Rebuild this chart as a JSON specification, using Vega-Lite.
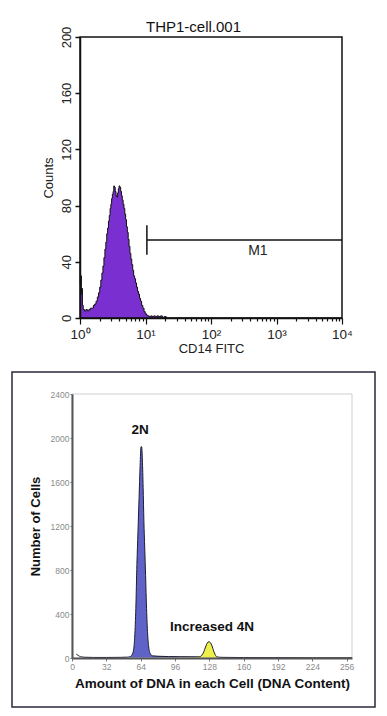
{
  "$schema": "https://vega.github.io/schema/vega-lite/v6.json",
  "background": "white",
  "padding": {"left": 11, "top": 20, "right": 13, "bottom": 11},
  "spacing": 0,
  "config": {"view": {"stroke": null}, "font": "Liberation Sans"},
  "datasets": {
    "flow": [
      {"fitc": 1.00, "count": 37}, {"fitc": 1.02, "count": 24}, {"fitc": 1.04, "count": 30}, {"fitc": 1.06, "count": 17},
      {"fitc": 1.08, "count": 21}, {"fitc": 1.10, "count": 9}, {"fitc": 1.14, "count": 6}, {"fitc": 1.20, "count": 5},
      {"fitc": 1.26, "count": 6}, {"fitc": 1.33, "count": 5}, {"fitc": 1.40, "count": 6}, {"fitc": 1.48, "count": 7},
      {"fitc": 1.56, "count": 7}, {"fitc": 1.64, "count": 9}, {"fitc": 1.72, "count": 10}, {"fitc": 1.80, "count": 12},
      {"fitc": 1.88, "count": 15}, {"fitc": 1.96, "count": 18}, {"fitc": 2.04, "count": 22}, {"fitc": 2.12, "count": 27},
      {"fitc": 2.20, "count": 32}, {"fitc": 2.28, "count": 37}, {"fitc": 2.36, "count": 43}, {"fitc": 2.44, "count": 49},
      {"fitc": 2.52, "count": 54}, {"fitc": 2.60, "count": 60}, {"fitc": 2.68, "count": 64}, {"fitc": 2.76, "count": 69},
      {"fitc": 2.84, "count": 73}, {"fitc": 2.92, "count": 78}, {"fitc": 3.00, "count": 81}, {"fitc": 3.08, "count": 85},
      {"fitc": 3.16, "count": 88}, {"fitc": 3.24, "count": 90}, {"fitc": 3.32, "count": 94}, {"fitc": 3.40, "count": 93},
      {"fitc": 3.50, "count": 90}, {"fitc": 3.60, "count": 87}, {"fitc": 3.70, "count": 86}, {"fitc": 3.80, "count": 89},
      {"fitc": 3.90, "count": 92}, {"fitc": 4.00, "count": 94}, {"fitc": 4.12, "count": 93}, {"fitc": 4.24, "count": 90},
      {"fitc": 4.36, "count": 87}, {"fitc": 4.48, "count": 84}, {"fitc": 4.62, "count": 81}, {"fitc": 4.76, "count": 78},
      {"fitc": 4.90, "count": 74}, {"fitc": 5.05, "count": 70}, {"fitc": 5.20, "count": 65}, {"fitc": 5.36, "count": 61},
      {"fitc": 5.52, "count": 56}, {"fitc": 5.70, "count": 51}, {"fitc": 5.88, "count": 46}, {"fitc": 6.07, "count": 42},
      {"fitc": 6.27, "count": 38}, {"fitc": 6.48, "count": 34}, {"fitc": 6.70, "count": 30}, {"fitc": 6.93, "count": 28},
      {"fitc": 7.17, "count": 25}, {"fitc": 7.42, "count": 22}, {"fitc": 7.68, "count": 19}, {"fitc": 7.95, "count": 17},
      {"fitc": 8.25, "count": 14}, {"fitc": 8.55, "count": 12}, {"fitc": 8.90, "count": 9}, {"fitc": 9.30, "count": 7},
      {"fitc": 9.70, "count": 4.5}, {"fitc": 10.1, "count": 3}, {"fitc": 10.6, "count": 2}, {"fitc": 11.1, "count": 1.5},
      {"fitc": 11.7, "count": 1}, {"fitc": 12.3, "count": 1.5}, {"fitc": 13.0, "count": 1}, {"fitc": 13.7, "count": 1.5},
      {"fitc": 14.5, "count": 1}, {"fitc": 15.4, "count": 1.5}, {"fitc": 16.4, "count": 1}, {"fitc": 17.5, "count": 1.5},
      {"fitc": 18.7, "count": 0.5}, {"fitc": 20.0, "count": 1}, {"fitc": 21.5, "count": 0}, {"fitc": 10000, "count": 0}
    ],
    "gates": [
      {"gate": "M1", "start": 10.5, "end": 10000, "level": 55.5, "low": 45, "high": 66, "labelAt": 520, "labelLevel": 48}
    ],
    "dna": [
      {"dna": 4, "cells": 35, "phase": "baseline"}, {"dna": 6, "cells": 22, "phase": "baseline"},
      {"dna": 8, "cells": 12, "phase": "baseline"}, {"dna": 12, "cells": 7, "phase": "baseline"},
      {"dna": 20, "cells": 5, "phase": "baseline"}, {"dna": 32, "cells": 5, "phase": "baseline"},
      {"dna": 45, "cells": 6, "phase": "baseline"}, {"dna": 52, "cells": 8, "phase": "baseline"},
      {"dna": 54, "cells": 12, "phase": "2N"}, {"dna": 56, "cells": 30, "phase": "2N"},
      {"dna": 57.5, "cells": 80, "phase": "2N"}, {"dna": 58.5, "cells": 200, "phase": "2N"},
      {"dna": 59.5, "cells": 450, "phase": "2N"}, {"dna": 60.5, "cells": 850, "phase": "2N"},
      {"dna": 61.5, "cells": 1150, "phase": "2N"}, {"dna": 62.5, "cells": 1450, "phase": "2N"},
      {"dna": 63.5, "cells": 1750, "phase": "2N"}, {"dna": 64.3, "cells": 1920, "phase": "2N"},
      {"dna": 64.9, "cells": 1920, "phase": "2N"}, {"dna": 65.6, "cells": 1800, "phase": "2N"},
      {"dna": 66.3, "cells": 1550, "phase": "2N"}, {"dna": 67, "cells": 1250, "phase": "2N"},
      {"dna": 67.8, "cells": 1000, "phase": "2N"}, {"dna": 68.6, "cells": 750, "phase": "2N"},
      {"dna": 69.5, "cells": 450, "phase": "2N"}, {"dna": 70.5, "cells": 220, "phase": "2N"},
      {"dna": 71.5, "cells": 100, "phase": "2N"}, {"dna": 73, "cells": 40, "phase": "2N"},
      {"dna": 75, "cells": 20, "phase": "2N"},
      {"dna": 80, "cells": 16, "phase": "baseline"}, {"dna": 90, "cells": 13, "phase": "baseline"},
      {"dna": 100, "cells": 12, "phase": "baseline"}, {"dna": 110, "cells": 11, "phase": "baseline"},
      {"dna": 117, "cells": 11, "phase": "baseline"},
      {"dna": 119, "cells": 12, "phase": "4N"}, {"dna": 121, "cells": 25, "phase": "4N"},
      {"dna": 123, "cells": 60, "phase": "4N"}, {"dna": 124.5, "cells": 100, "phase": "4N"},
      {"dna": 126, "cells": 135, "phase": "4N"}, {"dna": 127.6, "cells": 148, "phase": "4N"},
      {"dna": 129, "cells": 140, "phase": "4N"}, {"dna": 130.5, "cells": 110, "phase": "4N"},
      {"dna": 132, "cells": 65, "phase": "4N"}, {"dna": 133.5, "cells": 30, "phase": "4N"},
      {"dna": 135, "cells": 10, "phase": "4N"},
      {"dna": 140, "cells": 6, "phase": "baseline"}, {"dna": 160, "cells": 4, "phase": "baseline"},
      {"dna": 192, "cells": 3, "phase": "baseline"}, {"dna": 224, "cells": 2, "phase": "baseline"},
      {"dna": 256, "cells": 2, "phase": "baseline"}, {"dna": 261, "cells": 2, "phase": "baseline"}
    ],
    "notes": [
      {"label": "2N", "dna": 63.4, "cells": 2073},
      {"label": "Increased 4N", "dna": 130.5, "cells": 282}
    ]
  },
  "vconcat": [
    {
      "width": 363,
      "height": 334,
      "title": {"text": "THP1-cell.001", "fontSize": 15, "fontWeight": "normal", "color": "#111", "anchor": "middle", "offset": -9},
      "layer": [
        {
          "data": {"name": "flow"},
          "mark": {"type": "area", "interpolate": "step", "color": "#7a30d0", "opacity": 1, "line": {"color": "#111", "strokeWidth": 1}},
          "encoding": {
            "x": {
              "field": "fitc", "type": "quantitative",
              "scale": {"type": "log", "domain": [1, 10000], "range": [68, 330]},
              "axis": {
                "orient": "bottom", "offset": -53, "zindex": 1,
                "values": [1,2,3,4,5,6,7,8,9,10,20,30,40,50,60,70,80,90,100,200,300,400,500,600,700,800,900,1000,2000,3000,4000,5000,6000,7000,8000,9000,10000],
                "labelExpr": "abs(log(datum.value)/LN10 - round(log(datum.value)/LN10)) < 0.001 ? '10' + ['⁰','¹','²','³','⁴'][round(log(datum.value)/LN10)] : ''",
                "tickSize": {"condition": {"test": "abs(log(datum.value)/LN10 - round(log(datum.value)/LN10)) < 0.001", "value": 6}, "value": 3},
                "labelOverlap": false, "labelFlush": false, "grid": false,
                "domainColor": "#111", "domainWidth": 1.5, "tickColor": "#111", "tickWidth": 1.2,
                "labelFontSize": 13.5, "labelColor": "#222", "labelPadding": 3,
                "title": "CD14 FITC", "titleFontSize": 13, "titleFontWeight": "normal", "titleColor": "#222", "titlePadding": 2
              }
            },
            "y": {
              "field": "count", "type": "quantitative",
              "scale": {"domain": [0, 200], "range": [281, 0]},
              "axis": {
                "orient": "left", "offset": -68, "zindex": 1,
                "values": [0,10,20,30,40,50,60,70,80,90,100,110,120,130,140,150,160,170,180,190,200],
                "labelExpr": "datum.value % 40 === 0 ? datum.label : ''",
                "labelAngle": 270, "labelAlign": "center", "labelBaseline": "bottom",
                "labelOverlap": false, "labelFlush": false, "grid": false,
                "tickSize": 5, "tickColor": "#111", "tickWidth": 1.5,
                "domainColor": "#111", "domainWidth": 1.5,
                "labelFontSize": 13, "labelColor": "#222", "labelPadding": 2,
                "title": "Counts", "titleFontSize": 13, "titleFontWeight": "normal", "titleColor": "#222", "titlePadding": 5
              }
            }
          }
        },
        {
          "data": {"values": [{}]},
          "mark": {"type": "rect", "fill": null, "stroke": "#111", "strokeWidth": 1.5},
          "encoding": {
            "x": {"datum": 1, "type": "quantitative"},
            "x2": {"datum": 10000},
            "y": {"datum": 0, "type": "quantitative"},
            "y2": {"datum": 200}
          }
        },
        {
          "data": {"name": "gates"},
          "mark": {"type": "rule", "color": "#111", "strokeWidth": 1.5},
          "encoding": {
            "x": {"field": "start", "type": "quantitative"},
            "x2": {"field": "end"},
            "y": {"field": "level", "type": "quantitative"}
          }
        },
        {
          "data": {"name": "gates"},
          "mark": {"type": "rule", "color": "#111", "strokeWidth": 1.5},
          "encoding": {
            "x": {"field": "start", "type": "quantitative"},
            "y": {"field": "low", "type": "quantitative"},
            "y2": {"field": "high"}
          }
        },
        {
          "data": {"name": "gates"},
          "mark": {"type": "text", "fontSize": 14, "color": "#222", "baseline": "middle", "align": "center"},
          "encoding": {
            "x": {"field": "labelAt", "type": "quantitative"},
            "y": {"field": "labelLevel", "type": "quantitative"},
            "text": {"field": "gate"}
          }
        }
      ]
    },
    {
      "width": 363,
      "height": 335,
      "view": {"stroke": "#2a2a3a", "strokeWidth": 1.5},
      "layer": [
        {
          "data": {"name": "dna"},
          "transform": [{"filter": "datum.phase !== 'baseline'"}],
          "mark": {"type": "area", "interpolate": "monotone", "opacity": 1},
          "encoding": {
            "x": {
              "field": "dna", "type": "quantitative",
              "scale": {"domain": [0, 261], "range": [60, 340], "nice": false},
              "axis": {
                "orient": "bottom", "offset": -49, "zindex": 1,
                "values": [0, 32, 64, 96, 128, 160, 192, 224, 256],
                "format": "d",
                "grid": false, "labelFlush": false, "labelOverlap": false,
                "tickSize": 3, "tickColor": "#777", "domainColor": "#555", "domainWidth": 2,
                "labelFontSize": 8.5, "labelColor": "#8a8a8a", "labelPadding": 1,
                "title": "Amount of DNA in each Cell (DNA Content)", "titleFontSize": 13.5, "titleFontWeight": "bold", "titleColor": "#111", "titlePadding": 6
              }
            },
            "y": {
              "field": "cells", "type": "quantitative",
              "scale": {"domain": [0, 2400], "range": [286, 22], "nice": false},
              "axis": {
                "orient": "left", "offset": -60, "zindex": 1,
                "values": [0, 400, 800, 1200, 1600, 2000, 2400],
                "format": "d",
                "grid": false, "labelFlush": false, "labelOverlap": false,
                "tickSize": 2, "tickColor": "#777", "domainColor": "#555", "domainWidth": 2,
                "labelFontSize": 8.5, "labelColor": "#8a8a8a", "labelPadding": 1,
                "title": "Number of Cells", "titleFontSize": 13, "titleFontWeight": "bold", "titleColor": "#111", "titlePadding": 8
              }
            },
            "color": {"field": "phase", "type": "nominal", "scale": {"domain": ["2N", "4N"], "range": ["#5f63c8", "#eef04a"]}, "legend": null}
          }
        },
        {
          "data": {"values": [{}]},
          "mark": {"type": "rect", "fill": null, "stroke": "#cfcfcf", "strokeWidth": 1},
          "encoding": {
            "x": {"datum": 0, "type": "quantitative"},
            "x2": {"datum": 261},
            "y": {"datum": 0, "type": "quantitative"},
            "y2": {"datum": 2400}
          }
        },
        {
          "data": {"name": "dna"},
          "mark": {"type": "line", "interpolate": "monotone", "color": "#1e1e30", "strokeWidth": 1},
          "encoding": {
            "x": {"field": "dna", "type": "quantitative"},
            "y": {"field": "cells", "type": "quantitative"}
          }
        },
        {
          "data": {"name": "notes"},
          "mark": {"type": "text", "fontSize": 13.5, "fontWeight": "bold", "color": "#111", "baseline": "middle", "align": "center"},
          "encoding": {
            "x": {"field": "dna", "type": "quantitative"},
            "y": {"field": "cells", "type": "quantitative"},
            "text": {"field": "label"}
          }
        }
      ]
    }
  ]
}
